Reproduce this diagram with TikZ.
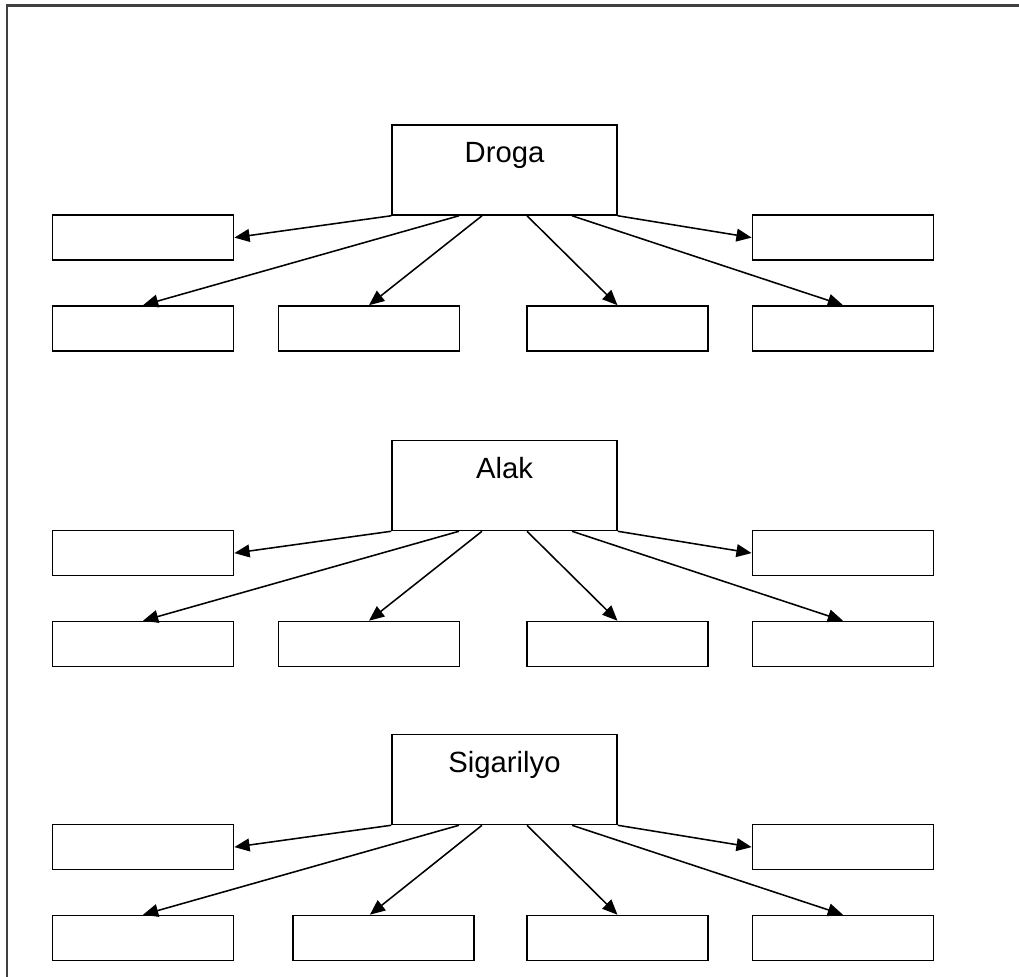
\documentclass[tikz,border=0pt]{standalone}
\usepackage{fontspec}
\setmainfont{Liberation Sans}
\usepackage{tikz}
\usetikzlibrary{arrows.meta}
\tikzstyle{topic} = [rectangle, minimum width=5.625cm, text height=0.95cm, text depth=1.3cm, inner ysep=0pt, text centered, draw=black, line width=1.1pt, font=\fontsize{20.8}{25}\selectfont]
\tikzstyle{blank} = [rectangle, minimum width=4.53cm, minimum height=1.125cm, draw=black, line width=1.1pt]
\tikzstyle{arrow} = [line width=1.1pt, -{Triangle[length=0.38cm, width=0.32cm]}]
\tikzstyle{frame} = [line width=1.5pt, draw=black!75]
\begin{document}
\begin{tikzpicture}[node distance=1.69cm]
\useasboundingbox (0,0) rectangle (25.475,-24.425);
\draw [frame] (0.1825,-24.425) |- (25.475,-0.1375);

\node (droga) [topic] at (12.6125,-4.25) {Droga};
\node (dtl) [blank, below of=droga, xshift=-9.0375cm] {};
\node (dtr) [blank, below of=droga, xshift=8.4625cm] {};
\node (db1) [blank, below of=droga, xshift=-9.0375cm, yshift=-2.2725cm] {};
\node (db2) [blank, below of=droga, xshift=-3.3875cm, yshift=-2.2725cm] {};
\node (db3) [blank, below of=droga, xshift=2.825cm, yshift=-2.2725cm] {};
\node (db4) [blank, below of=droga, xshift=8.4625cm, yshift=-2.2725cm] {};

\node (alak) [topic] at (12.6125,-12.1375) {Alak};
\node (atl) [blank, below of=alak, xshift=-9.0375cm] {};
\node (atr) [blank, below of=alak, xshift=8.4625cm] {};
\node (ab1) [blank, below of=alak, xshift=-9.0375cm, yshift=-2.2725cm] {};
\node (ab2) [blank, below of=alak, xshift=-3.3875cm, yshift=-2.2725cm] {};
\node (ab3) [blank, below of=alak, xshift=2.825cm, yshift=-2.2725cm] {};
\node (ab4) [blank, below of=alak, xshift=8.4625cm, yshift=-2.2725cm] {};

\node (sigar) [topic] at (12.6125,-19.4875) {Sigarilyo};
\node (stl) [blank, below of=sigar, xshift=-9.0375cm] {};
\node (str) [blank, below of=sigar, xshift=8.4625cm] {};
\node (sb1) [blank, below of=sigar, xshift=-9.0375cm, yshift=-2.2725cm] {};
\node (sb2) [blank, below of=sigar, xshift=-3.025cm, yshift=-2.2725cm] {};
\node (sb3) [blank, below of=sigar, xshift=2.825cm, yshift=-2.2725cm] {};
\node (sb4) [blank, below of=sigar, xshift=8.4625cm, yshift=-2.2725cm] {};

\draw [arrow] (droga.south west) -- (dtl.east);
\draw [arrow] ([xshift=-1.1375cm]droga.south) -- (db1.north);
\draw [arrow] ([xshift=-0.5625cm]droga.south) -- (db2.north);
\draw [arrow] ([xshift=0.5625cm]droga.south) -- (db3.north);
\draw [arrow] ([xshift=1.6875cm]droga.south) -- (db4.north);
\draw [arrow] (droga.south east) -- (dtr.west);

\draw [arrow] (alak.south west) -- (atl.east);
\draw [arrow] ([xshift=-1.1375cm]alak.south) -- (ab1.north);
\draw [arrow] ([xshift=-0.5625cm]alak.south) -- (ab2.north);
\draw [arrow] ([xshift=0.5625cm]alak.south) -- (ab3.north);
\draw [arrow] ([xshift=1.6875cm]alak.south) -- (ab4.north);
\draw [arrow] (alak.south east) -- (atr.west);

\draw [arrow] (sigar.south west) -- (stl.east);
\draw [arrow] ([xshift=-1.1375cm]sigar.south) -- (sb1.north);
\draw [arrow] ([xshift=-0.5625cm]sigar.south) -- ([xshift=-0.34cm]sb2.north);
\draw [arrow] ([xshift=0.5625cm]sigar.south) -- (sb3.north);
\draw [arrow] ([xshift=1.6875cm]sigar.south) -- (sb4.north);
\draw [arrow] (sigar.south east) -- (str.west);
\end{tikzpicture}
\end{document}
